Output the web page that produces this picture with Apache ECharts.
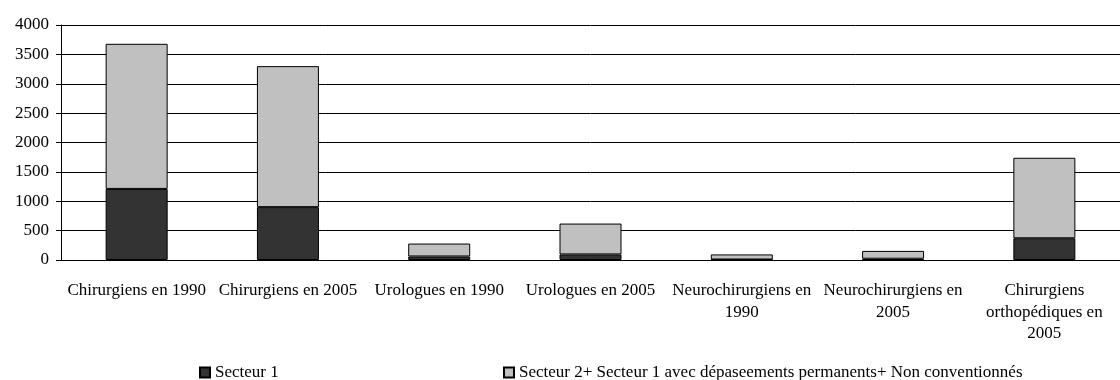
<!DOCTYPE html>
<html>
<head>
<meta charset="utf-8">
<script src="https://cdn.jsdelivr.net/npm/echarts@6/dist/echarts.min.js"></script>
<style>
  html, body { margin: 0; padding: 0; background: #fff; }
  #chart { width: 1120px; height: 380px; }
</style>
</head>
<body>
<div id="chart"></div>
<script>
// categories (line breaks as in the original axis labels)
const categories = [
  "Chirurgiens en 1990",
  "Chirurgiens en 2005",
  "Urologues en 1990",
  "Urologues en 2005",
  "Neurochirurgiens en\n1990",
  "Neurochirurgiens en\n2005",
  "Chirurgiens\northopédiques en\n2005"
];
const secteur1 = [1210, 900, 60, 95, 8, 22, 370];
const secteur2 = [2470, 2400, 220, 525, 87, 133, 1370];
const yTicks = { min: 0, max: 4000, interval: 500 };

const seriesNames = [
  "Secteur 1",
  "Secteur 2+ Secteur 1 avec dépaseements permanents+ Non conventionnés"
];

const font = "'Liberation Serif', 'DejaVu Serif', serif";
const chart = echarts.init(document.getElementById("chart"));

const legendText = { fontFamily: font, fontSize: 17, color: "#000" };

chart.setOption({
  animation: false,
  textStyle: { fontFamily: font, color: "#000" },
  grid: { left: 61, top: 25, right: -12, bottom: 120, containLabel: false },
  legend: [
    {
      data: [seriesNames[0]], left: 194, top: 359,
      icon: "rect", itemWidth: 10, itemHeight: 10, itemGap: 4,
      textStyle: legendText
    },
    {
      data: [seriesNames[1]], left: 498, top: 359,
      icon: "rect", itemWidth: 10, itemHeight: 10,
      textStyle: legendText
    }
  ],
  xAxis: {
    type: "category",
    data: categories,
    axisLine: { lineStyle: { color: "#000", width: 1 } },
    axisTick: { length: 5, lineStyle: { color: "#000" } },
    axisLabel: { interval: 0, margin: 20, fontSize: 17, lineHeight: 21.5, color: "#000", fontFamily: font }
  },
  yAxis: {
    type: "value",
    min: yTicks.min, max: yTicks.max, interval: yTicks.interval,
    axisLine: { show: true, lineStyle: { color: "#000", width: 1 } },
    axisTick: { show: true, length: 5, lineStyle: { color: "#000" } },
    axisLabel: { margin: 12, fontSize: 17, color: "#000", fontFamily: font, formatter: (v) => String(v) },
    splitLine: { lineStyle: { color: "#000", width: 1 } }
  },
  series: [
    {
      name: seriesNames[0], type: "bar", stack: "total", data: secteur1,
      barWidth: 62,
      itemStyle: { color: "#333333", borderColor: "#000", borderWidth: 1 }
    },
    {
      name: seriesNames[1], type: "bar", stack: "total", data: secteur2,
      barWidth: 62,
      itemStyle: { color: "#c0c0c0", borderColor: "#000", borderWidth: 1 }
    }
  ]
});
</script>
</body>
</html>
